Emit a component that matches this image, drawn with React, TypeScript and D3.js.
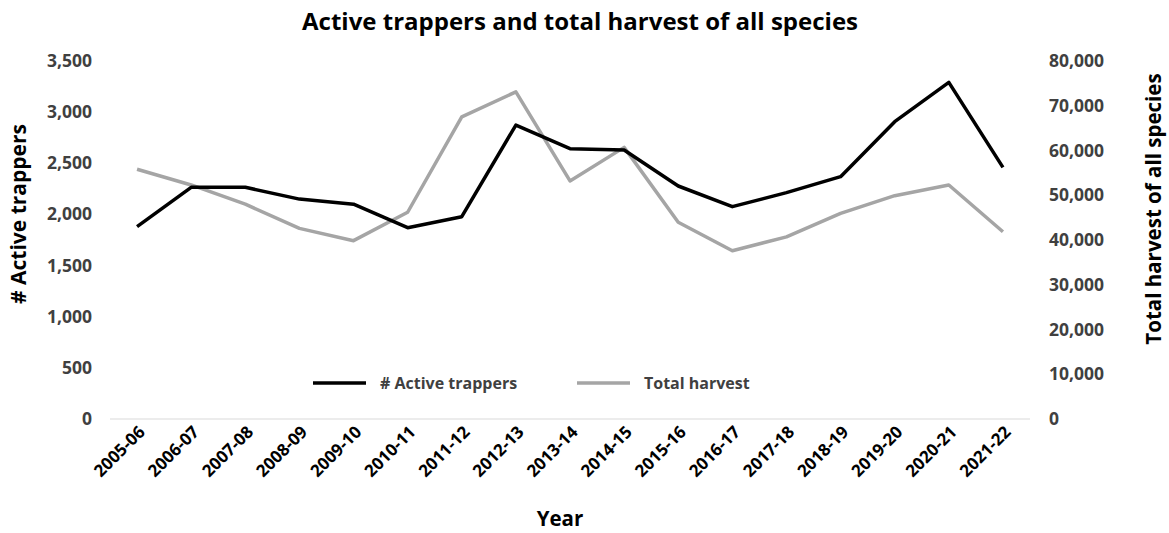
import * as d3 from "d3";
import {useEffect, useRef} from "react";

// data
const seasons = [
  "2005-06", "2006-07", "2007-08", "2008-09", "2009-10", "2010-11", "2011-12", "2012-13", "2013-14",
  "2014-15", "2015-16", "2016-17", "2017-18", "2018-19", "2019-20", "2020-21", "2021-22",
];
const activeTrappers = [1880, 2265, 2265, 2150, 2100, 1870, 1978, 2874, 2643, 2630, 2278, 2076, 2213, 2369, 2907, 3291, 2460];
const totalHarvest = [55800, 52300, 48000, 42600, 39850, 46200, 67500, 73100, 53200, 60700, 43950, 37600, 40700, 45950, 49900, 52300, 41850];
const leftTicks = [0, 500, 1000, 1500, 2000, 2500, 3000, 3500];
const rightTicks = [0, 10000, 20000, 30000, 40000, 50000, 60000, 70000, 80000];

const W = 1169;
const H = 533;
const FONT = "'Open Sans', 'DejaVu Sans', sans-serif";

const App = () => {
  const svgRef = useRef<SVGSVGElement>(null!);

  useEffect(() => {
    const svg = d3.select(svgRef.current);
    svg.selectAll("*").remove();

    const left = 110, right = 1030, top = 61, bottom = 419;

    const x = d3.scaleBand().domain(seasons).range([left, right]);
    const yL = d3.scaleLinear().domain([0, 3500]).range([bottom, top]);
    const yR = d3.scaleLinear().domain([0, 80000]).range([bottom, top]);
    const fmt = d3.format(",");
    const cx = (s: string) => x(s)! + x.bandwidth() / 2;

    // title
    svg.append("text")
      .attr("x", 580).attr("y", 30)
      .attr("text-anchor", "middle")
      .attr("font-family", FONT).attr("font-weight", 700).attr("font-size", 24)
      .attr("fill", "#000")
      .text("Active trappers and total harvest of all species");

    // x axis line
    svg.append("line")
      .attr("x1", left).attr("x2", right)
      .attr("y1", bottom).attr("y2", bottom)
      .attr("stroke", "#d9d9d9").attr("stroke-width", 1);

    // left ticks
    svg.append("g").selectAll("text").data(leftTicks).enter()
      .append("text")
      .attr("x", 92).attr("y", d => yL(d) + 6)
      .attr("text-anchor", "end")
      .attr("font-family", FONT).attr("font-weight", 700).attr("font-size", 17.5)
      .attr("fill", "#404040")
      .text(d => fmt(d));

    // right ticks
    svg.append("g").selectAll("text").data(rightTicks).enter()
      .append("text")
      .attr("x", 1049).attr("y", d => yR(d) + 6)
      .attr("text-anchor", "start")
      .attr("font-family", FONT).attr("font-weight", 700).attr("font-size", 17.5)
      .attr("fill", "#404040")
      .text(d => fmt(d));

    // x labels, rotated
    svg.append("g").selectAll("text").data(seasons).enter()
      .append("text")
      .attr("transform", d => `translate(${cx(d) + 9},${bottom + 14}) rotate(-45)`)
      .attr("text-anchor", "end")
      .attr("font-family", FONT).attr("font-weight", 700).attr("font-size", 17)
      .attr("fill", "#000")
      .text(d => d);

    // axis titles
    svg.append("text")
      .attr("transform", `translate(26,214) rotate(-90)`)
      .attr("text-anchor", "middle")
      .attr("font-family", FONT).attr("font-weight", 700).attr("font-size", 21)
      .attr("fill", "#000")
      .text("# Active trappers");

    svg.append("text")
      .attr("transform", `translate(1161,209) rotate(-90)`)
      .attr("text-anchor", "middle")
      .attr("font-family", FONT).attr("font-weight", 700).attr("font-size", 20.5)
      .attr("fill", "#000")
      .text("Total harvest of all species");

    svg.append("text")
      .attr("x", 560).attr("y", 526)
      .attr("text-anchor", "middle")
      .attr("font-family", FONT).attr("font-weight", 700).attr("font-size", 20.5)
      .attr("fill", "#000")
      .text("Year");

    // lines
    const lineL = d3.line<number>()
      .x((_, i) => cx(seasons[i]))
      .y(d => yL(d));
    const lineR = d3.line<number>()
      .x((_, i) => cx(seasons[i]))
      .y(d => yR(d));

    svg.append("path")
      .attr("d", lineR(totalHarvest)!)
      .attr("fill", "none").attr("stroke", "#a5a5a5").attr("stroke-width", 3.5)
      .attr("stroke-linejoin", "round");

    svg.append("path")
      .attr("d", lineL(activeTrappers)!)
      .attr("fill", "none").attr("stroke", "#000").attr("stroke-width", 3.5)
      .attr("stroke-linejoin", "round");

    // legend
    const legend = [
      {label: "# Active trappers", color: "#000", x: 313},
      {label: "Total harvest", color: "#a5a5a5", x: 577},
    ];
    const lg = svg.append("g").selectAll("g").data(legend).enter().append("g");
    lg.append("line")
      .attr("x1", d => d.x).attr("x2", d => d.x + 53)
      .attr("y1", 383).attr("y2", 383)
      .attr("stroke", d => d.color).attr("stroke-width", 3.5);
    lg.append("text")
      .attr("x", d => d.x + 67).attr("y", 389)
      .attr("font-family", FONT).attr("font-weight", 700).attr("font-size", 16)
      .attr("fill", "#404040")
      .text(d => d.label);
  }, []);

  return <svg width={W} height={H} ref={svgRef} style={{display: "block", position: "absolute", left: 0, top: 0}}/>;
};

export default App;
